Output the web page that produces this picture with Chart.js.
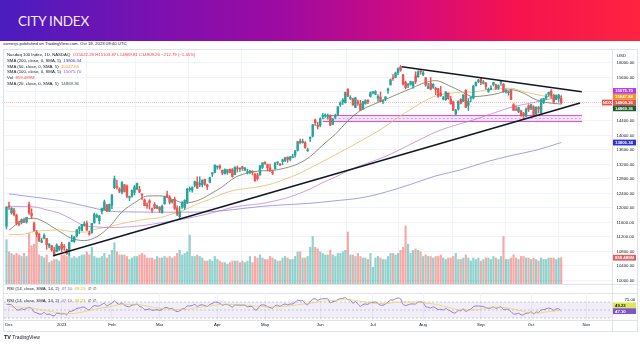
<!DOCTYPE html>
<html>
<head>
<meta charset="utf-8">
<script src="https://cdn.jsdelivr.net/npm/chart.js@4.4.0/dist/chart.umd.min.js"></script>
<style>
  body { margin: 0; width: 640px; height: 360px; overflow: hidden; background: #fff; position: relative;
         font-family: "Liberation Sans", Arial, sans-serif; }
  #hdr { position: absolute; left: 0; top: 0; width: 640px; height: 41px;
         background: linear-gradient(90deg, #4a1cbf 0%, #7d10b0 25%, #a00aa0 45%, #d40c7c 65%, #f5124f 80%, #ff2340 100%); }
  #hdr span { position: absolute; left: 18px; top: 13px; color: #f3ecff; font: 13.5px Lato, "Open Sans", sans-serif; letter-spacing: -0.2px; }
  .t { position: absolute; font-size: 4.3px; line-height: 5px; color: #131722; white-space: nowrap; }
  .line { position: absolute; background: #e0e3eb; }
  canvas { position: absolute; left: 0; }
</style>
</head>
<body>
<div id="hdr"><span>CITY INDEX</span></div>

<div class="t" style="left:3px;top:41px;">varnerjs published on TradingView.com, Oct 19, 2023 09:40 UTC</div>

<div class="line" style="left:3px;top:49px;width:635px;height:1px;"></div>
<div class="line" style="left:3px;top:49px;width:1px;height:283px;"></div>
<div class="line" style="left:637px;top:49px;width:1px;height:283px;"></div>
<div class="line" style="left:3px;top:331px;width:635px;height:1px;"></div>
<div class="line" style="left:612px;top:49px;width:1px;height:283px;"></div>
<div class="line" style="left:3px;top:284px;width:635px;height:1px;"></div>
<div class="line" style="left:3px;top:293px;width:635px;height:1px;"></div>
<div class="line" style="left:3px;top:320px;width:635px;height:1px;"></div>

<canvas id="main" width="640" height="234" style="top:50px;"></canvas>
<canvas id="rsi" width="640" height="39" style="top:293px;"></canvas>

<div class="t" style="left:7px;top:52px;">Nasdaq 100 Index, 1D, NASDAQ&nbsp; <span style="color:#f23645">O15022.28 H15103.87 L14869.81 C14909.26 −212.79 (−1.41%)</span></div>
<div class="t" style="left:7px;top:57.8px;">SMA (200, close, 0, SMA, 5)&nbsp; <span style="color:#3030d0">13806.34</span></div>
<div class="t" style="left:7px;top:63.6px;">SMA (50, close, 0, SMA, 5)&nbsp; <span style="color:#f7931a">15047.84</span></div>
<div class="t" style="left:7px;top:69.4px;">SMA (100, close, 0, SMA, 5)&nbsp; <span style="color:#b03ee8">15075.70</span></div>
<div class="t" style="left:7px;top:75.2px;">Vol&nbsp; <span style="color:#ef5350">859.489M</span></div>
<div class="t" style="left:7px;top:81px;">SMA (20, close, 0, SMA, 5)&nbsp; <span style="color:#1e5e2e">14869.36</span></div>
<div class="t" style="left:617px;top:53px;">USD</div>

<div class="t" style="left:7px;top:285.5px;">RSI (14, close, SMA, 14, 2)&nbsp; <span style="color:#7e57c2">47.10</span>&nbsp; <span style="color:#c8c400">49.23</span>&nbsp; ∅&nbsp; ∅</div>
<div class="t" style="left:7px;top:297.5px;">RSI (14, close, SMA, 14, 2)&nbsp; <span style="color:#7e57c2">47.10</span>&nbsp; <span style="color:#c8c400">49.23</span>&nbsp; ∅&nbsp; ∅</div>

<div class="t" style="left:4px;top:335px;font-size:5px;"><b style="font-size:5.5px;">TV</b> TradingView</div>

<script>
// Nasdaq 100 daily candles, Nov 30 2022 (day 0) to Oct 18 2023
const open = [
  11500,
  12050, 11870, 11940, 11800, 11550, 11600, 11640, 11620, 12100, 11850, 11580, 11330, 11280, 11060, 11170, 11160, 10950, 10960, 10840, 10800, 10870,
  11000, 10920, 10850, 10800, 11080, 11080, 11230, 11420, 11380, 11520, 11580, 11310, 11320, 11590, 11760, 11650, 11900, 11950, 12080, 11920,
  12080, 12560, 12600, 12520, 12430, 12640, 12600, 12290, 12330, 12430, 12520, 12510, 12380, 12220, 12080, 12200, 11980, 12100, 11990,
  12020, 11870, 12120, 12370, 12300, 12170, 12240, 12000, 11760, 12040, 12010, 12170, 12510, 12490, 12630, 12720, 12650, 12640, 12790, 12640, 12710, 12940, 12980,
  13130, 13160, 13040, 12950, 12980, 13070, 13060, 12920, 13090, 13080, 13140, 13040, 12980, 13000, 13000, 12930, 12900, 12920, 13120,
  13230, 13200, 13110, 13000, 13080, 13240, 13210, 13280, 13310, 13400, 13340, 13390, 13460, 13590, 13850, 13800, 13800, 13580, 13920, 13980, 14430, 14280,
  14280, 14530, 14540, 14520, 14530, 14310, 14510, 14570, 14850, 14930, 14900, 15280, 15020, 15010, 14770, 14930, 14870, 14730, 14880, 14970, 15080,
  15180, 15140, 15030, 15060, 14940, 15010, 15240, 15400, 15580, 15600, 15730, 15890, 15670, 15470, 15380, 15410, 15370, 15650, 15620, 15760,
  15680, 15590, 15300, 15440, 15330, 15300, 15290, 15180, 15010, 14990, 15170, 15000, 14930, 14590, 14730, 15000, 14940, 15250, 14830, 15030, 15030, 15380, 15490,
  15560, 15440, 15440, 15220, 15270, 15410, 15400, 15310, 15470, 15420, 15210, 15180, 15250, 14850, 14720, 14660, 14680, 14610, 14540, 14820,
  14750, 14790, 14590, 14770, 14630, 14910, 15030, 15130, 15220, 15110, 14990, 15020, 15022.28
];
const high = [
  12030,
  12160, 12010, 11990, 11830, 11640, 11700, 11720, 11745, 12166, 11980, 11610, 11380, 11300, 11170, 11290, 11160, 11020, 10970, 10920, 11010, 10950,
  11060, 10990, 10870, 11060, 11250, 11210, 11400, 11490, 11550, 11620, 11640, 11360, 11580, 11860, 11840, 11800, 11995, 12220, 12100, 12110,
  12380, 12880, 12770, 12560, 12730, 12650, 12640, 12330, 12500, 12620, 12690, 12600, 12390, 12250, 12140, 12230, 12000, 12150, 12080,
  12040, 12080, 12330, 12470, 12340, 12230, 12300, 12060, 12050, 12180, 12230, 12540, 12580, 12590, 12740, 12860, 12860, 12780, 12800, 12660, 12850, 12980, 13190,
  13160, 13190, 13050, 13080, 13060, 13080, 13090, 13140, 13160, 13090, 13150, 13120, 13070, 13030, 13030, 12960, 12960, 13180, 13250,
  13280, 13210, 13210, 13050, 13250, 13280, 13230, 13350, 13400, 13410, 13420, 13480, 13590, 13840, 13900, 13900, 13830, 13650, 13960, 14310, 14450, 14370,
  14490, 14610, 14600, 14600, 14570, 14460, 14590, 14790, 14930, 15020, 15200, 15290, 15100, 15030, 15050, 14980, 14970, 14940, 14990, 14990, 15200,
  15220, 15240, 15130, 15200, 14990, 15070, 15310, 15560, 15680, 15750, 15870, 15932, 15690, 15500, 15440, 15500, 15490, 15760, 15790, 15790,
  15770, 15600, 15440, 15600, 15430, 15330, 15300, 15360, 15080, 15210, 15180, 15080, 14950, 14720, 14960, 15010, 15130, 15260, 15020, 15070, 15380, 15480, 15550,
  15580, 15520, 15470, 15310, 15380, 15470, 15420, 15400, 15500, 15430, 15280, 15230, 15260, 14880, 14820, 14780, 14700, 14640, 14760, 14850,
  14860, 14820, 14790, 14800, 15020, 15030, 15140, 15200, 15270, 15140, 15120, 15130, 15103.87
];
const low = [
  11420,
  11960, 11830, 11780, 11530, 11510, 11560, 11600, 11580, 11820, 11710, 11360, 11200, 11070, 11040, 11150, 10860, 10900, 10810, 10670, 10790, 10820,
  10790, 10830, 10720, 10700, 11080, 11050, 11200, 11290, 11370, 11500, 11380, 11250, 11300, 11580, 11730, 11560, 11840, 11945, 11900, 11900,
  11980, 12530, 12520, 12420, 12390, 12440, 12280, 12200, 12300, 12360, 12500, 12420, 12230, 12060, 11990, 11970, 11880, 11980, 11980,
  11870, 11860, 12100, 12290, 12110, 12130, 11960, 11790, 11700, 11990, 11960, 12120, 12460, 12440, 12580, 12540, 12590, 12580, 12620, 12510, 12690, 12870, 12970,
  13070, 13070, 12920, 12930, 12930, 12970, 12850, 12920, 12990, 13010, 13040, 13030, 12940, 12940, 12910, 12740, 12770, 12900, 13090,
  13200, 13020, 13010, 12920, 13070, 13200, 13170, 13190, 13280, 13260, 13300, 13390, 13400, 13570, 13770, 13790, 13650, 13560, 13830, 13960, 14280, 14180,
  14240, 14460, 14500, 14450, 14270, 14300, 14460, 14560, 14800, 14860, 14900, 15070, 14990, 14830, 14770, 14830, 14690, 14720, 14860, 14880, 15060,
  15150, 15130, 14940, 14930, 14880, 14960, 15160, 15390, 15520, 15590, 15680, 15770, 15390, 15290, 15320, 15390, 15300, 15430, 15600, 15690,
  15650, 15360, 15290, 15260, 15300, 15130, 15050, 15080, 14980, 14970, 15000, 14870, 14690, 14560, 14700, 14870, 14930, 14770, 14690, 14930, 15010, 15360, 15460,
  15400, 15420, 15270, 15190, 15260, 15370, 15280, 15270, 15380, 15190, 15170, 15110, 14990, 14690, 14690, 14630, 14530, 14460, 14510, 14660,
  14710, 14540, 14560, 14620, 14570, 14880, 14990, 15080, 15030, 14890, 14990, 14920, 14869.81
];
const close = [
  12030,
  12031, 11995, 11818, 11576, 11545, 11678, 11605, 11738, 11870, 11780, 11381, 11268, 11104, 11098, 11248, 10989, 11002, 10848, 10708, 10979, 10940,
  10862, 10915, 10741, 11040, 11108, 11205, 11400, 11459, 11541, 11556, 11391, 11273, 11574, 11825, 11791, 11779, 11992, 12167, 11908, 12101,
  12347, 12804, 12574, 12459, 12699, 12457, 12325, 12304, 12485, 12583, 12678, 12442, 12359, 12063, 12059, 12145, 11939, 12004, 12042,
  11944, 12052, 12314, 12304, 12155, 12219, 11985, 11830, 11887, 12142, 12206, 12519, 12519, 12560, 12729, 12547, 12672, 12767, 12661, 12585, 12839, 12944, 13181,
  13145, 13104, 12963, 13062, 13053, 12983, 12869, 13120, 13080, 13080, 13094, 13097, 12984, 13018, 12987, 12747, 12813, 13160, 13246,
  13229, 13112, 13024, 12961, 13240, 13266, 13183, 13329, 13389, 13341, 13409, 13420, 13569, 13831, 13801, 13839, 13660, 13604, 13939, 14298, 14355, 14254,
  14465, 14547, 14546, 14548, 14285, 14458, 14534, 14791, 14904, 14979, 15185, 15083, 15047, 14847, 15039, 14891, 14697, 14929, 14961, 14937, 15179,
  15191, 15208, 15079, 14945, 14961, 15065, 15285, 15538, 15565, 15722, 15842, 15804, 15420, 15323, 15388, 15482, 15482, 15489, 15753, 15757,
  15735, 15389, 15353, 15274, 15409, 15267, 15077, 15102, 15028, 15204, 15018, 14869, 14694, 14694, 14936, 14891, 15119, 14777, 14941, 15043, 15365, 15463, 15501,
  15465, 15474, 15349, 15272, 15307, 15462, 15286, 15375, 15482, 15203, 15231, 15201, 14995, 14694, 14701, 14770, 14545, 14565, 14716, 14715,
  14847, 14565, 14780, 14737, 14977, 15022, 15085, 15187, 15103, 14932, 15107, 15122, 14909.26
];
// volume in millions
const volume = [
  1450,
  1050, 1000, 950, 1000, 950, 900, 1000, 900, 1650, 1250, 1300, 1550, 950, 900, 850, 950, 700, 750, 800, 800, 750,
  950, 950, 900, 1000, 850, 900, 850, 900, 950, 950, 1050, 950, 1200, 900, 850, 850, 900, 1000, 850, 950,
  1100, 1350, 1050, 950, 950, 950, 900, 800, 850, 900, 900, 950, 1000, 950, 850, 850, 850, 800, 900,
  850, 850, 900, 850, 900, 850, 900, 1000, 1100, 950, 1000, 1050, 1600, 900, 900, 950, 900, 850, 750, 750, 800, 750, 900,
  800, 750, 700, 700, 650, 700, 750, 750, 750, 700, 750, 700, 750, 900, 700, 900, 850, 950, 850,
  800, 800, 900, 850, 800, 750, 750, 850, 900, 850, 800, 800, 900, 1050, 1050, 850, 850, 900, 1200, 1550, 1200, 1150,
  1050, 1000, 950, 950, 1100, 950, 900, 1000, 1000, 1050, 1100, 1700, 950, 950, 900, 1000, 900, 850, 850, 800, 1000,
  550, 850, 900, 850, 800, 800, 900, 1000, 1000, 950, 1000, 1100, 1200, 1900, 1300, 1000, 1100, 1150, 1100, 1050,
  900, 950, 900, 900, 850, 900, 900, 950, 850, 800, 850, 850, 900, 1000, 800, 800, 850, 950, 850, 750, 850, 800, 850,
  750, 800, 850, 850, 800, 900, 850, 800, 900, 1550, 800, 800, 850, 950, 850, 800, 900, 900, 850, 850,
  800, 850, 800, 750, 850, 800, 800, 850, 850, 850, 800, 850, 859.489
];
// moving averages, one reading every 5 sessions starting Dec 1 (day 1)
const sma20 = [11384, 11652, 11716, 11578, 11358, 11161, 11101, 11208, 11481, 11892, 12142, 12329, 12336, 12244, 12138,
  12202, 12375, 12589, 12841, 12964, 13024, 13036, 13102, 13214, 13420, 13737, 14035, 14404, 14688, 14852,
  14996, 15146, 15291, 15442, 15514, 15388, 15221, 15073, 15101, 15164, 15266, 15167, 14986, 14901, 14869];
const sma50 = [11266, 11269, 11355, 11378, 11396, 11349, 11334, 11426, 11483, 11571, 11637, 11696, 11730, 11837, 11949,
  12113, 12240, 12390, 12493, 12542, 12593, 12672, 12799, 12930, 13105, 13286, 13463, 13655, 13844, 14041,
  14252, 14500, 14720, 14933, 15090, 15160, 15194, 15200, 15255, 15285, 15302, 15208, 15133, 15068, 15048];
const sma100 = [12047, 12040, 12030, 11950, 11860, 11690, 11511, 11480, 11459, 11470, 11490, 11530, 11586, 11640, 11702,
  11770, 11851, 11940, 12031, 12080, 12115, 12184, 12265, 12383, 12527, 12700, 12852, 13023, 13168, 13291,
  13423, 13586, 13759, 13931, 14098, 14223, 14329, 14428, 14549, 14663, 14777, 14854, 14926, 15001, 15076];
// one reading every 10 sessions starting Dec 1
const sma200 = [12390, 12300, 12206, 12060, 11914, 11890, 11883, 11885, 11896, 11960, 12040, 12090, 12130, 12200,
  12277, 12437, 12651, 12885, 13053, 13269, 13446, 13595, 13806];

const rsi = [
  64,
  64, 63, 57, 51, 50, 53, 51, 54, 57, 54, 45, 43, 40, 40, 44, 39, 40, 37, 35, 42, 41,
  40, 41, 38, 46, 47, 50, 54, 55, 57, 57, 53, 50, 57, 61, 60, 60, 64, 67, 60, 64,
  67, 73, 67, 64, 68, 62, 59, 58, 62, 63, 65, 59, 57, 51, 51, 53, 49, 50, 51,
  49, 51, 56, 56, 53, 54, 49, 46, 48, 53, 54, 60, 60, 61, 64, 59, 62, 63, 61, 59, 64, 66, 70,
  69, 67, 62, 64, 64, 61, 57, 63, 62, 62, 62, 62, 58, 59, 58, 50, 52, 61, 63,
  62, 58, 56, 54, 61, 62, 59, 63, 65, 63, 65, 65, 69, 75, 73, 74, 66, 63, 71, 77, 78, 74,
  77, 78, 78, 78, 68, 71, 72, 76, 78, 79, 81, 76, 75, 67, 71, 65, 59, 64, 65, 64, 69,
  69, 70, 66, 62, 62, 65, 70, 75, 75, 78, 80, 78, 64, 61, 63, 65, 65, 65, 70, 70,
  69, 58, 57, 55, 58, 55, 51, 52, 50, 54, 50, 47, 43, 43, 49, 48, 53, 46, 50, 52, 58, 60, 60,
  59, 59, 56, 54, 55, 58, 54, 56, 58, 51, 52, 51, 46, 40, 40, 42, 38, 38, 42, 42,
  46, 40, 45, 44, 50, 51, 53, 55, 53, 49, 53, 53, 47.1
];
// RSI moving average, every 5 sessions starting Dec 1
const rsiMa = [58, 57, 54, 48, 43, 41, 46, 53, 58, 64, 64, 60, 54, 52, 51, 56, 60, 64, 64, 62, 59, 58, 59, 63, 67,
  72, 74, 76, 72, 67, 66, 70, 70, 68, 64, 57, 50, 50, 55, 57, 54, 46, 42, 46, 49.23];

// time axis: session number of the first session of each month
const monthDays = [1, 22, 42, 61, 84, 103, 125, 146, 166, 189, 209, 231];
const monthLabels = ["Dec", "2023", "Feb", "Mar", "Apr", "May", "Jun", "Jul", "Aug", "Sep", "Oct", "Nov"];
const priceTicks = [10000, 10400, 10800, 11200, 11600, 12000, 12400, 12800, 13200, 13600, 14000, 14400, 14800, 15200, 15600, 16000];
const rsiTicks = [75];

// drawings: [session, price]
const supportLine = [[18.6, 10680], [228.5, 14897]];
const resistanceLine = [[157.5, 15898], [229.2, 15208]];
const zone = { from: 126, to: 229.3, top: 14550, bottom: 14385 };

const UP = "#26a69a", DOWN = "#ef5350";
const X_MIN = -0.99, X_MAX = 241.24;

const days = close.map((c, i) => i);
const isUp = i => close[i] >= open[i];
const every = (arr, start, step) => arr.map((v, k) => ({ x: start + k * step, y: v }));

// the main label keeps its place, the others are pushed away from it
function placeLabels(items, h) {
  items.sort((a, b) => a.y - b.y);
  const f = items.findIndex(it => it.main);
  items[f].py = items[f].y;
  for (let i = f - 1; i >= 0; i--) items[i].py = Math.min(items[i].y, items[i + 1].py - h);
  for (let i = f + 1; i < items.length; i++) items[i].py = Math.max(items[i].y, items[i - 1].py + h);
}

function drawBox(ctx, area, y, text, bg, fg) {
  ctx.fillStyle = bg;
  ctx.fillRect(area.right + 1, y - 2.9, 23, 5.8);
  ctx.fillStyle = fg;
  ctx.font = "bold 4.3px 'Liberation Sans', Arial";
  ctx.textBaseline = "middle";
  ctx.textAlign = "left";
  ctx.fillText(text, area.right + 3, y + 0.2);
}

const mainOverlay = {
  id: "mainOverlay",
  beforeDatasetsDraw(chart) {
    const { ctx, chartArea: a, scales: { x, y } } = chart;
    ctx.save();
    const x0 = x.getPixelForValue(zone.from), x1 = x.getPixelForValue(zone.to);
    const yt = y.getPixelForValue(zone.top), yb = y.getPixelForValue(zone.bottom);
    ctx.fillStyle = "rgba(156, 39, 176, 0.12)";
    ctx.fillRect(x0, yt, x1 - x0, yb - yt);
    ctx.strokeStyle = "rgba(214, 60, 200, 0.9)";
    ctx.lineWidth = 1;
    ctx.beginPath();
    ctx.moveTo(x0, yt); ctx.lineTo(x1, yt);
    ctx.moveTo(x0, yb); ctx.lineTo(x1, yb);
    ctx.stroke();
    ctx.setLineDash([2, 2]);
    ctx.strokeStyle = "rgba(120, 100, 200, 0.7)";
    ctx.lineWidth = 0.6;
    ctx.beginPath();
    ctx.moveTo(x0, (yt + yb) / 2); ctx.lineTo(x1, (yt + yb) / 2);
    ctx.stroke();
    // last price line
    const last = close.length - 1;
    const yp = y.getPixelForValue(close[last]);
    ctx.setLineDash([1, 1]);
    ctx.strokeStyle = "rgba(239, 83, 80, 0.55)";
    ctx.lineWidth = 0.7;
    ctx.beginPath();
    ctx.moveTo(a.left, yp); ctx.lineTo(a.right, yp);
    ctx.stroke();
    ctx.restore();
  },
  afterDatasetsDraw(chart) {
    const { ctx, chartArea: a, scales: { y, yVol } } = chart;
    const last = close.length - 1;
    const labels = [
      { y: y.getPixelForValue(sma100[sma100.length - 1]), text: "15075.70", bg: "#b03ee8", fg: "#fff" },
      { y: y.getPixelForValue(sma50[sma50.length - 1]), text: "15047.84", bg: "#f7931a", fg: "#fff" },
      { y: y.getPixelForValue(close[last]), text: close[last].toFixed(2), bg: DOWN, fg: "#fff", main: true },
      { y: y.getPixelForValue(sma20[sma20.length - 1]), text: "14869.36", bg: "#1e5e2e", fg: "#fff" },
      { y: y.getPixelForValue(sma200[sma200.length - 1]), text: "13806.34", bg: "#3030d0", fg: "#fff" },
      { y: yVol.getPixelForValue(volume[last]), text: "859.489M", bg: "#e06060", fg: "#fff" }
    ];
    placeLabels(labels, 5.8);
    ctx.save();
    labels.forEach(l => {
      drawBox(ctx, a, l.py, l.text, l.bg, l.fg);
      if (l.main) {
        ctx.fillStyle = DOWN;
        ctx.fillRect(a.right - 10, l.py - 2.9, 10, 5.8);
        ctx.fillStyle = "#fff";
        ctx.fillText("NDX", a.right - 9.2, l.py + 0.2);
      }
    });
    ctx.restore();
  }
};

const rsiOverlay = {
  id: "rsiOverlay",
  beforeDatasetsDraw(chart) {
    const { ctx, chartArea: a, scales: { y } } = chart;
    const y70 = y.getPixelForValue(70), y50 = y.getPixelForValue(50), y30 = y.getPixelForValue(30);
    ctx.save();
    ctx.fillStyle = "rgba(126, 87, 194, 0.1)";
    ctx.fillRect(a.left, y70, a.right - a.left, y30 - y70);
    ctx.setLineDash([2, 2]);
    ctx.strokeStyle = "rgba(120, 123, 134, 0.6)";
    ctx.lineWidth = 0.6;
    [y70, y50, y30].forEach(v => {
      ctx.beginPath(); ctx.moveTo(a.left, v); ctx.lineTo(a.right, v); ctx.stroke();
    });
    ctx.restore();
  },
  afterDatasetsDraw(chart) {
    const { ctx, chartArea: a, scales: { y } } = chart;
    const labels = [
      { y: y.getPixelForValue(rsiMa[rsiMa.length - 1]), text: "49.23", bg: "#dfe85a", fg: "#131722" },
      { y: y.getPixelForValue(rsi[rsi.length - 1]), text: "47.10", bg: "#7e57c2", fg: "#fff", main: true }
    ];
    placeLabels(labels, 5.8);
    ctx.save();
    labels.forEach(l => drawBox(ctx, a, l.py, l.text, l.bg, l.fg));
    ctx.restore();
  }
};

const tickFont = { size: 4.3, family: "'Liberation Sans', Arial" };
const monthTicks = scale => { scale.ticks = monthDays.map(v => ({ value: v })); };
const noPad = s => { s.paddingTop = 0; s.paddingBottom = 0; s.paddingLeft = 0; s.paddingRight = 0; };

try {
  new Chart(document.getElementById("main"), {
    type: "bar",
    data: {
      datasets: [
        {
          data: days.map(i => ({ x: i, y: [low[i], high[i]] })),
          backgroundColor: days.map(i => (isUp(i) ? UP : DOWN)),
          barThickness: 0.8, grouped: false, order: 3
        },
        {
          data: days.map(i => ({ x: i, y: [open[i], close[i]] })),
          backgroundColor: days.map(i => (isUp(i) ? UP : DOWN)),
          barThickness: 1.8, minBarLength: 1, grouped: false, order: 2
        },
        {
          data: days.map(i => ({ x: i, y: volume[i] })),
          backgroundColor: days.map(i => (isUp(i) ? "rgba(38,166,154,0.5)" : "rgba(239,83,80,0.5)")),
          barThickness: 1.5, grouped: false, yAxisID: "yVol", order: 10
        },
        { type: "line", data: every(sma200, 1, 10), borderColor: "rgba(130,120,215,0.7)", borderWidth: 1, pointRadius: 0, cubicInterpolationMode: "monotone", order: 5 },
        { type: "line", data: every(sma100, 1, 5), borderColor: "rgba(180,120,215,0.7)", borderWidth: 1, pointRadius: 0, cubicInterpolationMode: "monotone", order: 5 },
        { type: "line", data: every(sma50, 1, 5), borderColor: "rgba(235,190,110,0.85)", borderWidth: 1, pointRadius: 0, cubicInterpolationMode: "monotone", order: 5 },
        { type: "line", data: every(sma20, 1, 5), borderColor: "rgba(110,105,75,0.75)", borderWidth: 1, pointRadius: 0, cubicInterpolationMode: "monotone", order: 5 },
        { type: "line", data: supportLine.map(p => ({ x: p[0], y: p[1] })), borderColor: "#131722", borderWidth: 1.6, pointRadius: 0, order: 1 },
        { type: "line", data: resistanceLine.map(p => ({ x: p[0], y: p[1] })), borderColor: "#131722", borderWidth: 1.6, pointRadius: 0, order: 1 }
      ]
    },
    options: {
      responsive: false, animation: false, devicePixelRatio: 1,
      layout: { padding: { left: 4, right: 0, top: 0, bottom: 0 } },
      plugins: { legend: { display: false }, tooltip: { enabled: false } },
      scales: {
        x: {
          type: "linear", min: X_MIN, max: X_MAX, offset: false,
          afterBuildTicks: monthTicks,
          afterFit: s => { s.height = 0; noPad(s); },
          ticks: { display: false },
          grid: { color: "#f0f3fa", drawTicks: false },
          border: { display: false }
        },
        y: {
          position: "right", min: 9903.4, max: 16358.6,
          afterBuildTicks: s => { s.ticks = priceTicks.map(v => ({ value: v })); },
          afterFit: s => { s.width = 28; noPad(s); },
          ticks: { font: tickFont, color: "#131722", padding: 4.5, callback: v => v.toFixed(2) },
          grid: { color: "#f0f3fa", drawTicks: false },
          border: { display: false }
        },
        yVol: { display: false, min: 0, max: 7647 }
      }
    },
    plugins: [mainOverlay]
  });

  new Chart(document.getElementById("rsi"), {
    type: "line",
    data: {
      datasets: [
        { data: every(rsiMa, 1, 5), borderColor: "rgba(230,210,60,0.8)", borderWidth: 0.8, pointRadius: 0, cubicInterpolationMode: "monotone" },
        { data: days.map(i => ({ x: i, y: rsi[i] })), borderColor: "#8a6cc8", borderWidth: 0.9, pointRadius: 0, tension: 0.2 }
      ]
    },
    options: {
      responsive: false, animation: false, devicePixelRatio: 1,
      layout: { padding: { left: 4, right: 0, top: 0, bottom: 0 } },
      plugins: { legend: { display: false }, tooltip: { enabled: false } },
      scales: {
        x: {
          type: "linear", min: X_MIN, max: X_MAX, offset: false,
          afterBuildTicks: monthTicks,
          afterFit: s => { s.height = 12; noPad(s); },
          ticks: { font: tickFont, color: "#131722", padding: 2.3, maxRotation: 0, autoSkip: false,
                   callback: v => monthLabels[monthDays.indexOf(v)] },
          grid: { color: "#f0f3fa", drawTicks: false },
          border: { display: false }
        },
        y: {
          position: "right", min: 25, max: 92.5,
          afterBuildTicks: s => { s.ticks = rsiTicks.map(v => ({ value: v })); },
          afterFit: s => { s.width = 28; noPad(s); },
          ticks: { font: tickFont, color: "#131722", padding: 4.5, callback: v => v.toFixed(2) },
          grid: { display: false },
          border: { display: false }
        }
      }
    },
    plugins: [rsiOverlay]
  });
} catch (error) {
  console.log("while creating the chart:", error);
}
</script>
</body>
</html>
